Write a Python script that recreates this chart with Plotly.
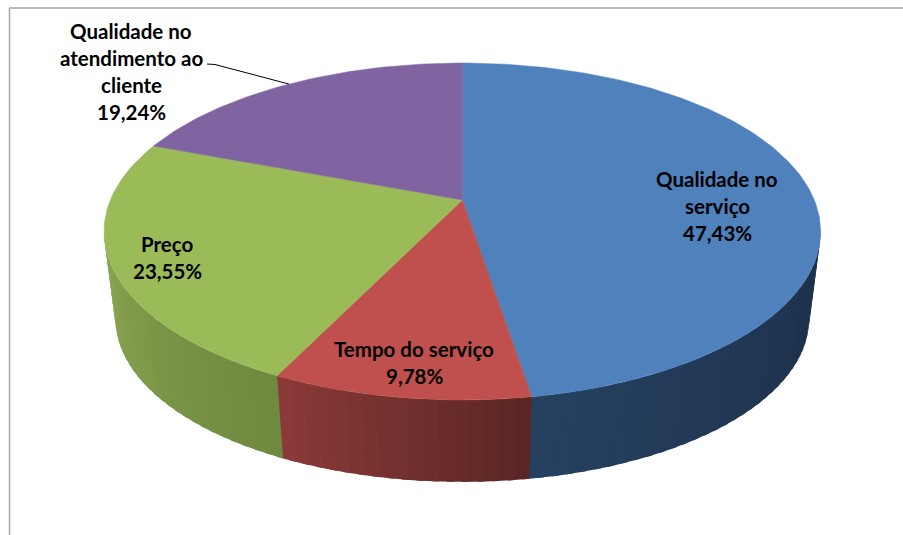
import math
import plotly.graph_objects as go

# --- data ---
categories = ["Qualidade no serviço", "Tempo do serviço", "Preço", "Qualidade no atendimento ao cliente"]
values = [47.43, 9.78, 23.55, 19.24]
value_labels = ["47,43%", "9,78%", "23,55%", "19,24%"]
label_lines = [["Qualidade no", "serviço"], ["Tempo do serviço"], ["Preço"],
               ["Qualidade no", "atendimento ao", "cliente"]]
top_colors = ["#4F81BD", "#C0504D", "#9BBB59", "#8064A2"]
side_left = ["#264060", "#8C3B39", "#8BA652", "#5A4674"]
side_right = ["#1B2F48", "#582524", "#6E883F", "#4A395F"]
label_centers = [(717, 206), (414, 362.5), (167, 257.5), (131, 71.5)]

# --- perspective projection of the tilted disc (pixel axes) ---
W, H = 903, 535
CX, CY = 462.3, 200.0
RX, RY, K = 352.0, 162.6, 0.187
DEPTH, SHRINK = 88.3, 0.968


def project(theta, bottom=False):
    u, v = math.sin(theta), math.cos(theta)
    w = 1 + K * v
    x, y = RX * u / w, -RY * v / w
    if bottom:
        return CX + SHRINK * x, CY + DEPTH + SHRINK * y
    return CX + x, CY + y


def mix(a, b, t):
    ca = [int(a[i:i + 2], 16) for i in (1, 3, 5)]
    cb = [int(b[i:i + 2], 16) for i in (1, 3, 5)]
    return "rgb(%d,%d,%d)" % tuple(round(p + (q - p) * t) for p, q in zip(ca, cb))


total = sum(values)
edges = [0.0]
for val in values:
    edges.append(edges[-1] + val / total * 2 * math.pi)

fig = go.Figure()

# side wall: only the part facing the viewer, shaded in narrow bands.
# Each band runs on under the next one so that no seam shows between them.
vis_a = math.acos(-K)
vis_b = 2 * math.pi - vis_a
STEP = math.radians(2)
for i in range(len(values)):
    a0, a1 = max(edges[i], vis_a), min(edges[i + 1], vis_b)
    if a1 <= a0:
        continue
    n = max(1, int((a1 - a0) / STEP))
    for j in range(n):
        t0 = a0 + (a1 - a0) * j / n
        t1 = min(a0 + (a1 - a0) * (j + 1) / n + STEP / 2, vis_b)
        col = mix(side_right[i], side_left[i], (j + 0.5) / n)
        p = [project(t0)]
        p += [project(t0 + (t1 - t0) * s / 4) for s in range(1, 5)]
        p += [project(t0 + (t1 - t0) * s / 4, True) for s in range(4, -1, -1)]
        p += [project(t0)]
        fig.add_trace(go.Scatter(x=[q[0] for q in p], y=[q[1] for q in p], mode="lines",
                                 fill="toself", fillcolor=col, line=dict(width=0),
                                 hoverinfo="skip", showlegend=False))

# top face
for i in range(len(values)):
    n = max(2, int((edges[i + 1] - edges[i]) / math.radians(1)))
    arc = [project(edges[i] + (edges[i + 1] - edges[i]) * j / n) for j in range(n + 1)]
    xs = [CX] + [q[0] for q in arc] + [CX]
    ys = [CY] + [q[1] for q in arc] + [CY]
    fig.add_trace(go.Scatter(x=xs, y=ys, mode="lines", fill="toself", fillcolor=top_colors[i],
                             line=dict(color=top_colors[i], width=0.5), name=categories[i],
                             hoverinfo="name", showlegend=False))

# leader line of the last slice
mid = (edges[3] + edges[4]) / 2
lx, ly = project(mid)
fig.add_trace(go.Scatter(x=[207, 215, lx], y=[64, 64.5, ly], mode="lines",
                         line=dict(color="#000000", width=1), hoverinfo="skip", showlegend=False))

# labels
SPACING = 27
for i in range(len(values)):
    lines = label_lines[i] + [value_labels[i]]
    cx, cy = label_centers[i]
    for k, text in enumerate(lines):
        fig.add_annotation(x=cx, y=cy + (k - (len(lines) - 1) / 2) * SPACING, text=text,
                           showarrow=False, xanchor="center", yanchor="middle",
                           font=dict(family="Lato", size=20.5, color="#000000", weight="bold"))

fig.update_layout(
    width=W, height=H, margin=dict(l=0, r=0, t=0, b=0),
    paper_bgcolor="white", plot_bgcolor="white", showlegend=False,
    xaxis=dict(range=[0, W], visible=False, fixedrange=True),
    yaxis=dict(range=[H, 0], visible=False, fixedrange=True),
    shapes=[
        dict(type="line", x0=9.5, x1=9.5, y0=8, y1=H, line=dict(color="#A6A6A6", width=1.5)),
        dict(type="line", x0=9, x1=W, y0=8, y1=8, line=dict(color="#A6A6A6", width=1.5)),
    ],
)
fig.write_html("out.html", post_script="document.body.style.margin='0';", config={"displayModeBar": False})
